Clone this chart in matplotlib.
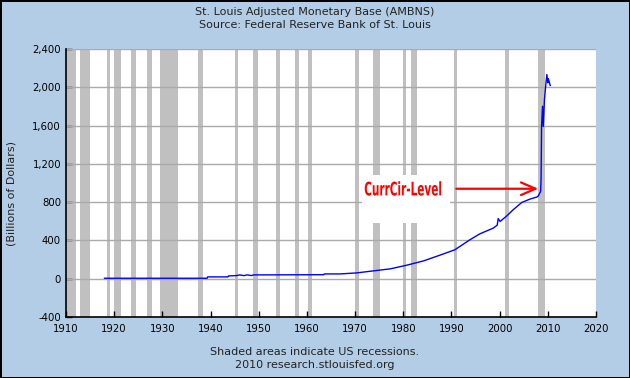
import matplotlib.pyplot as plt
import matplotlib.patheffects as pe
from matplotlib.patches import Rectangle
from matplotlib.transforms import Affine2D
from matplotlib.ticker import FuncFormatter

# AMBNS, billions of dollars
years = [1918.0, 1939.3, 1939.4, 1943.6, 1943.7, 1945.5, 1946.0, 1947.0, 1947.5,
         1948.5, 1949.0, 1951.3, 1963.5, 1963.6, 1966.9, 1970.4, 1973.8, 1977.3,
         1980.7, 1984.2, 1987.6, 1990.7, 1993.8, 1995.9, 1998.7, 1999.5, 1999.7,
         2000.1, 2001.5, 2002.8, 2004.6, 2006.3, 2007.7, 2008.0, 2008.5, 2008.6,
         2008.7, 2008.9, 2009.05, 2009.3, 2009.55, 2009.8, 2010.0, 2010.1, 2010.5]
base = [5, 5, 19, 19, 29, 33, 40, 32, 40, 33, 40, 40, 42, 50, 50, 61, 82, 103,
        141, 186, 246, 302, 406, 469, 529, 560, 628, 598, 657, 720, 797, 832,
        853, 863, 912, 1034, 1592, 1802, 1590, 1872, 2011, 2134, 2047, 2090, 2019]

# NBER recessions (peak, trough)
rec_start = [1910.0, 1913.0, 1918.6, 1920.0, 1923.4, 1926.8, 1929.6, 1937.4,
             1945.1, 1948.9, 1953.5, 1957.6, 1960.3, 1969.9, 1973.8, 1980.0,
             1981.5, 1990.5, 2001.2, 2007.9]
rec_end = [1912.0, 1914.9, 1919.2, 1921.5, 1924.5, 1927.8, 1933.2, 1938.5,
           1945.8, 1949.8, 1954.4, 1958.3, 1961.1, 1970.9, 1975.2, 1980.5,
           1982.9, 1991.2, 2001.9, 2009.5]

yticks = list(range(-400, 2401, 400))
xticks = list(range(1910, 2021, 10))

label = 'CurrCir-Level'
label_pos = (1980.0, 870)     # baseline centre
arrow_tail = (1991.0, 940)
arrow_tip = (2008.0, 940)


class Squeeze(pe.AbstractPathEffect):
    # narrow the glyphs horizontally around a centre x (display px)
    def __init__(self, sx, cx):
        super().__init__()
        self.sx = sx
        self.cx = cx

    def draw_path(self, renderer, gc, tpath, affine, rgbFace=None):
        t = affine + Affine2D().translate(-self.cx, 0).scale(self.sx, 1).translate(self.cx, 0)
        renderer.draw_path(gc, tpath, t, rgbFace)


bg = '#b4cde6'
fig = plt.figure(figsize=(6.3, 3.78), dpi=100)
fig.patch.set_facecolor(bg)
fig.patch.set_edgecolor('black')
fig.patch.set_linewidth(2)

ax = fig.add_axes([66 / 630, 1 - 317 / 378, 530 / 630, 268 / 378])
ax.set_facecolor('white')
ax.set_xlim(1910, 2020)
ax.set_ylim(-400, 2400)

for s, e in zip(rec_start, rec_end):
    ax.axvspan(s, e, color='#c0c0c0', lw=0, zorder=1)

for y in yticks[1:]:
    ax.axhline(y, color='#aaaaaa', lw=1, zorder=2)

ax.plot(years, base, color='#0000ff', lw=1, zorder=4)

# white backdrop behind the label
ax.add_patch(Rectangle((1971.4, 585), 18.3, 500, fc='white', ec='none', zorder=3))

cx = ax.transData.transform(label_pos)[0]
ax.text(*label_pos, label, ha='center', va='baseline', color='red',
        fontsize=13.5, fontweight='bold', zorder=5,
        path_effects=[Squeeze(0.56, cx)])
ax.annotate('', xy=arrow_tip, xytext=arrow_tail, zorder=5,
            arrowprops=dict(arrowstyle='->,head_length=0.8,head_width=0.35',
                            color='red', lw=1.6, shrinkA=0, shrinkB=0,
                            mutation_scale=13))

ax.set_xticks(xticks)
ax.set_yticks(yticks)
ax.yaxis.set_major_formatter(FuncFormatter(lambda v, p: f'{int(v):,}'))
ax.tick_params(direction='in', length=4, width=1, labelsize=7.3, colors='black')
ax.tick_params(axis='x', pad=5)
ax.tick_params(axis='y', pad=3.5)
for side in ['top', 'right']:
    ax.spines[side].set_visible(False)
for side in ['left', 'bottom']:
    ax.spines[side].set_linewidth(1.2)
    ax.spines[side].set_zorder(6)

txt = dict(ha='center', va='center', fontsize=8, color='#222222')
fig.text(12 / 630, 1 - 194 / 378, '(Billions of Dollars)', rotation=90, **txt)
fig.text(0.5, 1 - 12 / 378, 'St. Louis Adjusted Monetary Base (AMBNS)', **txt)
fig.text(0.5, 1 - 25 / 378, 'Source: Federal Reserve Bank of St. Louis', **txt)
fig.text(0.5, 1 - 352 / 378, 'Shaded areas indicate US recessions.', **txt)
fig.text(0.5, 1 - 365 / 378, '2010 research.stlouisfed.org', **txt)

fig.savefig('out.png', dpi=100, facecolor=bg, edgecolor='black')
